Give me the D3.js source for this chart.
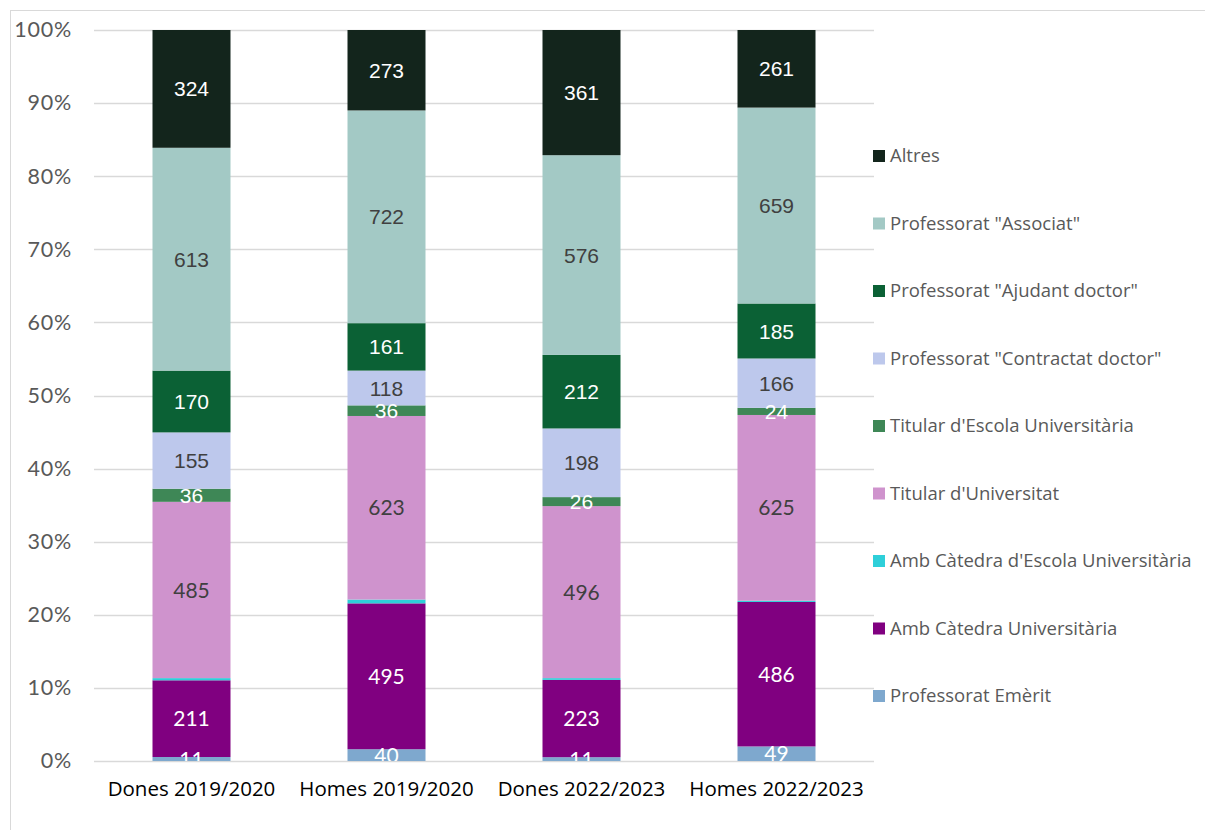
<!DOCTYPE html>
<html><head><meta charset="utf-8">
<script src="https://cdn.jsdelivr.net/npm/d3@7"></script>
<style>body{margin:0;background:#fff;} svg{display:block;}</style>
</head><body>
<script>
const categories = ["Dones 2019/2020","Homes 2019/2020","Dones 2022/2023","Homes 2022/2023"];
const seriesNames = ["Professorat Emèrit","Amb Càtedra Universitària","Amb Càtedra d'Escola Universitària","Titular d'Universitat","Titular d'Escola Universitària","Professorat \"Contractat doctor\"","Professorat \"Ajudant doctor\"","Professorat \"Associat\"","Altres"];
const emerit = [11,40,11,49];
const catedraUniv = [211,495,223,486];
const catedraEscola = [6,13,5,4];
const titularUniv = [485,623,496,625];
const titularEscola = [36,36,26,24];
const contractat = [155,118,198,166];
const ajudant = [170,161,212,185];
const associat = [613,722,576,659];
const altres = [324,273,361,261];
const yTicks = [0,0.1,0.2,0.3,0.4,0.5,0.6,0.7,0.8,0.9,1];

const seriesValues = [emerit,catedraUniv,catedraEscola,titularUniv,titularEscola,contractat,ajudant,associat,altres];
const colors = ["#7ea8ce","#800080","#2ecfd9","#cf93cd","#3e8756","#bdc8ec","#0b6135","#a3c9c5","#13251c"];
const labelColors = ["#ffffff","#ffffff",null,"#404040","#ffffff","#404040","#ffffff","#404040","#ffffff"];
const labelFonts = ["Lato","Lato",null,"Lato","Liberation Sans","Liberation Sans","Liberation Sans","Liberation Sans","Liberation Sans"];

const W=1205,H=830;
const svg=d3.select("body").append("svg").attr("width",W).attr("height",H);
svg.append("rect").attr("x",10.5).attr("y",10.5).attr("width",W).attr("height",H).attr("fill","none").attr("stroke","#d9d9d9");

const m={left:94,right:874,top:30,bottom:761};
const x=d3.scaleBand().domain(categories).range([m.left,m.right]).paddingInner(0.6).paddingOuter(0.3);
const y=d3.scaleLinear().domain([0,1]).range([m.bottom,m.top]);

const table = categories.map((c,i)=>{const o={cat:c}; seriesNames.forEach((s,j)=>o[s]=seriesValues[j][i]); return o;});
const stack=d3.stack().keys(seriesNames).offset(d3.stackOffsetExpand);
const stacked=stack(table);

svg.append("g").selectAll("line").data(yTicks).join("line")
  .attr("x1",m.left).attr("x2",m.right).attr("y1",d=>Math.round(y(d))+0.5).attr("y2",d=>Math.round(y(d))+0.5)
  .attr("stroke","#d9d9d9").attr("stroke-width",1.3);

const yAxis=d3.axisLeft(y).tickValues(yTicks).tickFormat(d3.format(".0%")).tickSize(0).tickPadding(22);
const ya=svg.append("g").attr("transform",`translate(${m.left},0)`).call(yAxis);
ya.select(".domain").remove();
ya.selectAll("text").attr("font-family","Lato, 'Noto Sans', sans-serif").attr("font-size",21.5).attr("letter-spacing","0.8px").attr("fill","#595959");

const gs=svg.append("g").selectAll("g").data(stacked).join("g").attr("fill",(d,i)=>colors[i]);
gs.selectAll("rect").data(d=>d).join("rect")
  .attr("x",d=>x(d.data.cat)).attr("width",x.bandwidth())
  .attr("y",d=>y(d[1])).attr("height",d=>y(d[0])-y(d[1]));

svg.append("clipPath").attr("id","pc").append("rect").attr("x",0).attr("y",0).attr("width",W).attr("height",m.bottom);

const lg=svg.append("g").attr("clip-path","url(#pc)");
stacked.forEach((s,i)=>{
  if(!labelColors[i]) return;
  lg.append("g").selectAll("text").data(s).join("text")
    .attr("x",d=>x(d.data.cat)+x.bandwidth()/2)
    .attr("y",d=>(y(d[0])+y(d[1]))/2)
    .attr("dy","0.36em").attr("text-anchor","middle")
    .attr("font-family",labelFonts[i]).attr("font-size",21)
    .attr("fill",labelColors[i])
    .text(d=>d.data[s.key]);
});

const xAxis=d3.axisBottom(x).tickSize(0).tickPadding(20);
const xa=svg.append("g").attr("transform",`translate(0,${m.bottom})`).call(xAxis);
xa.select(".domain").remove();
xa.selectAll("text").attr("font-family","'Open Sans', sans-serif").attr("font-size",20.5).attr("fill","#000");

const legendOrder=seriesNames.map((s,i)=>i).reverse();
const leg=svg.append("g");
legendOrder.forEach((idx,k)=>{
  const cy=156+k*67.5;
  leg.append("rect").attr("x",873).attr("y",cy-6).attr("width",12).attr("height",12).attr("fill",colors[idx]);
  leg.append("text").attr("x",890).attr("y",cy).attr("dy","0.35em")
    .attr("font-family","'Open Sans', sans-serif").attr("font-size",18.5).attr("fill","#595959")
    .text(seriesNames[idx]);
});
</script>
</body></html>
